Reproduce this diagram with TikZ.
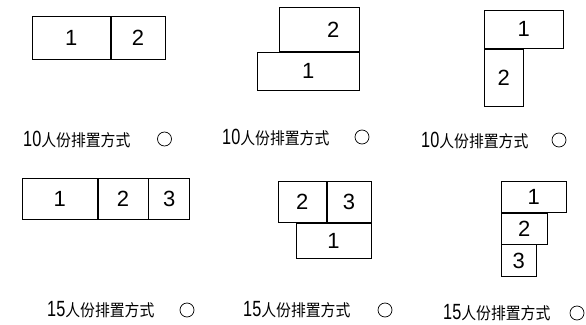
\documentclass[tikz,border=0pt]{standalone}
\usepackage{graphicx}
\usepackage{fontspec}
\setmainfont{Liberation Sans}
\newfontfamily\cjk{Noto Sans CJK SC}
\newcommand\capnum[1]{\scalebox{0.74}[1]{\fontsize{22}{22}\selectfont #1}}
\newcommand\seatcap[1]{\capnum{#1}\scalebox{0.9}[1]{\cjk\fontsize{16.5}{16.5}\selectfont 人份排置方式}}
\begin{document}
\begin{tikzpicture}[
    x=1pt, y=-1pt,
    cell/.style={rectangle, draw, line width=0.7pt, anchor=north west, inner sep=0pt, font=\fontsize{22}{22}\selectfont},
    caption/.style={anchor=west, inner sep=0pt},
    pick/.style={circle, draw, line width=0.7pt, minimum size=14pt, inner sep=0pt}
]
\useasboundingbox (0,0) rectangle (586,324);

% 10 persons, side by side
\node (a1) [cell, minimum width=78pt, minimum height=43pt] at (32,16) {1};
\node (a2) [cell, minimum width=54pt, minimum height=43pt] at (a1.north east) {2};
\node (acap) [caption] at (23,139) {\seatcap{10}};
\node (apick) [pick] at (164.5,139) {};

% 10 persons, stacked
\node (b2) [cell, minimum width=80pt, minimum height=44pt] at (279,7) {\hspace{28pt}2};
\node (b1) [cell, minimum width=102pt, minimum height=38pt, anchor=north east] at (b2.south east) {1};
\node (bcap) [caption] at (222,137) {\seatcap{10}};
\node (bpick) [pick] at (362,137) {};

% 10 persons, L shape
\node (c1) [cell, minimum width=79pt, minimum height=38pt] at (484,10) {1};
\node (c2) [cell, minimum width=39pt, minimum height=57pt] at (c1.south west) {2};
\node (ccap) [caption] at (421,140) {\seatcap{10}};
\node (cpick) [pick] at (559,140) {};

% 15 persons, in a row
\node (d1) [cell, minimum width=75pt, minimum height=41pt] at (22,178) {1};
\node (d2) [cell, minimum width=50pt, minimum height=41pt] at (d1.north east) {2};
\node (d3) [cell, minimum width=41pt, minimum height=41pt] at (d2.north east) {3};
\node (dcap) [caption] at (47,310) {\seatcap{15}};
\node (dpick) [pick] at (187,310) {};

% 15 persons, two over one
\node (e2) [cell, minimum width=48pt, minimum height=41pt] at (278,181) {2};
\node (e3) [cell, minimum width=44pt, minimum height=41pt] at (e2.north east) {3};
\node (e1) [cell, minimum width=75pt, minimum height=35pt, anchor=north east] at (e3.south east) {1};
\node (ecap) [caption] at (243,310) {\seatcap{15}};
\node (epick) [pick] at (385,310) {};

% 15 persons, steps
\node (f1) [cell, minimum width=65pt, minimum height=31pt] at (501,181) {1};
\node (f2) [cell, minimum width=46pt, minimum height=31pt] at (f1.south west) {2};
\node (f3) [cell, minimum width=35pt, minimum height=32pt] at (f2.south west) {3};
\node (fcap) [caption] at (443,313) {\seatcap{15}};
\node (fpick) [pick] at (577,313) {};

\end{tikzpicture}
\end{document}
